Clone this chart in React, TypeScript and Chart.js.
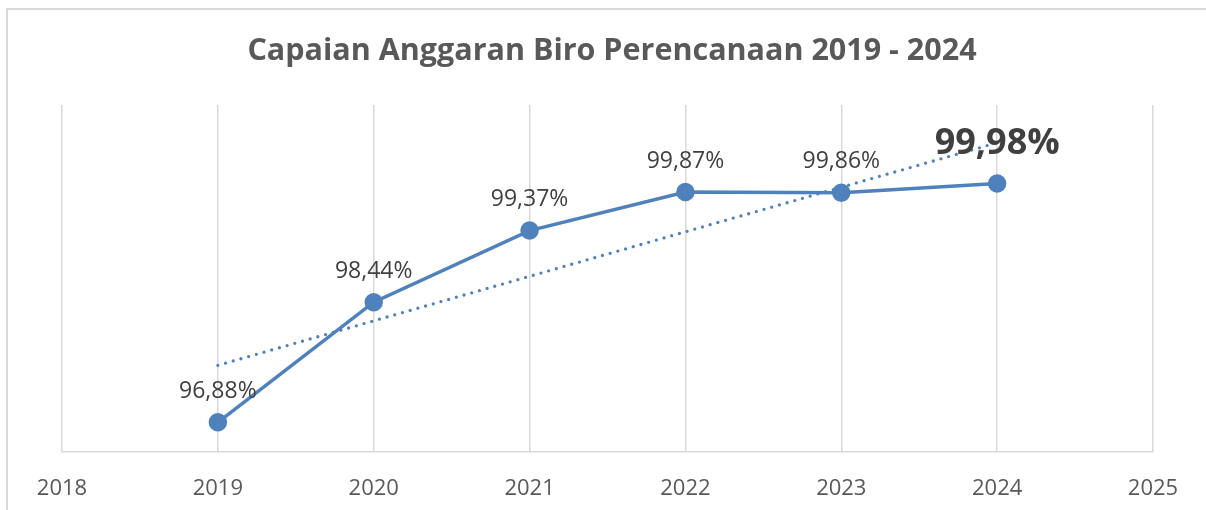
import React, { useEffect, useRef } from "react";
import { Chart, registerables } from "chart.js";

Chart.register(...registerables);

const TITLE = "Capaian Anggaran Biro Perencanaan 2019 - 2024";
const YEARS = [2019, 2020, 2021, 2022, 2023, 2024];
const VALUES = [96.88, 98.44, 99.37, 99.87, 99.86, 99.98];
const TREND_YEARS = [2019, 2024];
const TREND_VALUES = [97.62, 100.51];
const X_MIN = 2018;
const X_MAX = 2025;
const Y_MIN = 96.5;
const Y_MAX = 101;

const BLUE = "#4F81BD";
const FONT = "'Open Sans', 'Noto Sans', sans-serif";

const fmt = (v: number) => v.toFixed(2).replace(".", ",") + "%";

const labelPlugin = {
  id: "pointLabels",
  afterDatasetsDraw(chart: any) {
    const ctx = chart.ctx;
    const meta = chart.getDatasetMeta(0);
    ctx.save();
    ctx.textAlign = "center";
    ctx.textBaseline = "middle";
    meta.data.forEach((pt: any, i: number) => {
      const last = i === VALUES.length - 1;
      ctx.fillStyle = "#404040";
      ctx.font = last ? `bold 36px ${FONT}` : `23px ${FONT}`;
      ctx.fillText(fmt(VALUES[i]), pt.x, pt.y - (last ? 40 : 31));
    });
    ctx.restore();
  },
};

const titlePlugin = {
  id: "customTitle",
  afterDraw(chart: any) {
    const ctx = chart.ctx;
    ctx.save();
    ctx.textAlign = "center";
    ctx.textBaseline = "middle";
    ctx.fillStyle = "#595959";
    ctx.font = `bold 30.5px ${FONT}`;
    ctx.fillText(TITLE, 612, 51);
    ctx.restore();
  },
};

const CANVAS_H = 538;

export default function App() {
  const ref = useRef<HTMLCanvasElement | null>(null);
  useEffect(() => {
    if (!ref.current) return;
    const chart = new Chart(ref.current, {
      type: "line",
      data: {
        datasets: [
          {
            label: "Capaian",
            data: YEARS.map((y, i) => ({ x: y, y: VALUES[i] })),
            borderColor: BLUE,
            backgroundColor: BLUE,
            borderWidth: 3.5,
            pointRadius: 7.5,
            pointBackgroundColor: BLUE,
            pointBorderColor: BLUE,
            tension: 0,
          },
          {
            label: "Trend",
            data: TREND_YEARS.map((y, i) => ({ x: y, y: TREND_VALUES[i] })),
            borderColor: BLUE,
            borderWidth: 3.3,
            borderDash: [0, 8],
            borderCapStyle: "round",
            pointRadius: 0,
            tension: 0,
          },
        ],
      },
      options: {
        animation: false,
        responsive: false,
        maintainAspectRatio: false,
        layout: { padding: { left: 62, right: 53, top: 105, bottom: 12 } },
        plugins: {
          legend: { display: false },
          title: { display: false },
          tooltip: { enabled: false },
        },
        scales: {
          x: {
            type: "linear",
            min: X_MIN,
            max: X_MAX,
            ticks: {
              stepSize: 1,
              color: "#595959",
              font: { family: FONT, size: 22 },
              padding: 24,
              callback: (v: any) => String(v),
            },
            grid: { color: "#D9D9D9", lineWidth: 1.5, drawTicks: false },
            border: { color: "#D9D9D9", width: 1.5 },
          },
          y: {
            display: false,
            min: Y_MIN,
            max: Y_MAX,
          },
        },
      },
      plugins: [labelPlugin, titlePlugin],
    });
    return () => chart.destroy();
  }, []);

  return (
    <div style={{ position: "fixed", left: 0, top: 0, width: 1206, height: 510, overflow: "hidden", background: "#fff" }}>
      <div
        style={{
          position: "absolute",
          left: 6,
          top: 8,
          width: 1300,
          height: 700,
          border: "2px solid #D9D9D9",
        }}
      />
      <canvas ref={ref} width={1206} height={CANVAS_H} style={{ position: "absolute", left: 0, top: 0, width: 1206, height: CANVAS_H }} />
    </div>
  );
}
